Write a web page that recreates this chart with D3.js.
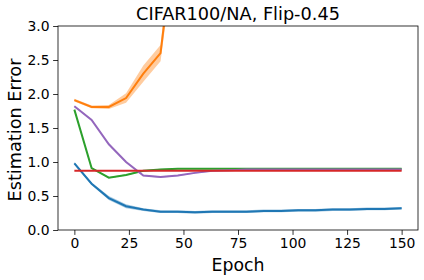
<!DOCTYPE html>
<html>
<head>
<meta charset="utf-8">
<script src="https://cdn.jsdelivr.net/npm/d3@7.9.0/dist/d3.min.js"></script>
<style>
  body { margin: 0; background: #fff; }
  svg text { font-family: "DejaVu Sans", sans-serif; fill: #000; }
</style>
</head>
<body>
<svg width="424" height="280"></svg>
<script>
const epochs = [0, 7.9, 15.8, 23.7, 31.6, 39.5, 47.4, 55.3, 63.2, 71.1, 78.9, 86.8, 94.7, 102.6, 110.5, 118.4, 126.3, 134.2, 142.1, 150];

// mean values per method
const blue   = [0.98, 0.68, 0.47, 0.35, 0.30, 0.27, 0.27, 0.26, 0.27, 0.27, 0.27, 0.28, 0.28, 0.29, 0.29, 0.30, 0.30, 0.31, 0.31, 0.32];
const orange = [1.91, 1.81, 1.81, 1.94, 2.30, 2.60, 4.7];
const green  = [1.77, 0.91, 0.77, 0.81, 0.87, 0.89, 0.90, 0.90, 0.90, 0.90, 0.90, 0.90, 0.90, 0.90, 0.90, 0.90, 0.90, 0.90, 0.90, 0.90];
const purple = [1.82, 1.62, 1.26, 1.00, 0.80, 0.78, 0.80, 0.84, 0.87, 0.88, 0.89, 0.89, 0.89, 0.89, 0.89, 0.89, 0.89, 0.89, 0.89, 0.89];
const red    = [0.87, 0.87, 0.87, 0.87, 0.87, 0.87, 0.87, 0.87, 0.87, 0.87, 0.87, 0.87, 0.87, 0.87, 0.87, 0.87, 0.87, 0.87, 0.87, 0.87];

// spread (half width of shaded band)
const blueSd   = [0.02, 0.02, 0.03, 0.03, 0.02, 0.02, 0.02, 0.02, 0.02, 0.02, 0.02, 0.02, 0.02, 0.02, 0.02, 0.02, 0.02, 0.02, 0.02, 0.02];
const orangeSd = [0.02, 0.02, 0.03, 0.07, 0.12, 0.12, 0.3];
const greenSd  = [0.01, 0.01, 0.01, 0.01, 0.01, 0.01, 0.01, 0.01, 0.01, 0.01, 0.01, 0.01, 0.01, 0.01, 0.01, 0.01, 0.01, 0.01, 0.01, 0.01];
const purpleSd = [0.01, 0.01, 0.01, 0.01, 0.01, 0.01, 0.01, 0.01, 0.01, 0.01, 0.01, 0.01, 0.01, 0.01, 0.01, 0.01, 0.01, 0.01, 0.01, 0.01];
const redSd    = [0, 0, 0, 0, 0, 0, 0, 0, 0, 0, 0, 0, 0, 0, 0, 0, 0, 0, 0, 0];

const xTicks = [0, 25, 50, 75, 100, 125, 150];
const yTicks = [0.0, 0.5, 1.0, 1.5, 2.0, 2.5, 3.0];

const series = [
  { v: blue, sd: blueSd, color: '#1f77b4' },
  { v: orange, sd: orangeSd, color: '#ff7f0e' },
  { v: green, sd: greenSd, color: '#2ca02c' },
  { v: purple, sd: purpleSd, color: '#9467bd' },
  { v: red, sd: redSd, color: '#d62728' },
];

const margin = { left: 58, right: 6, top: 26, bottom: 50 };
const W = 424, H = 280;
const svg = d3.select('svg');

const x = d3.scaleLinear().domain([-7.5, 157.5]).range([margin.left, W - margin.right]);
const y = d3.scaleLinear().domain([0, 3]).range([H - margin.bottom, margin.top]);

svg.append('clipPath').attr('id', 'clip')
  .append('rect')
  .attr('x', margin.left).attr('y', margin.top)
  .attr('width', W - margin.left - margin.right)
  .attr('height', H - margin.top - margin.bottom);

const plot = svg.append('g').attr('clip-path', 'url(#clip)');

series.forEach((s) => {
  let pts = s.v.map((d, i) => ({ x: epochs[i], y: d, sd: s.sd[i] }));
  let area = d3.area().x((d) => x(d.x)).y0((d) => y(d.y - d.sd)).y1((d) => y(d.y + d.sd));
  plot.append('path').attr('d', area(pts))
    .attr('fill', s.color).attr('opacity', 0.4);
  let line = d3.line().x((d) => x(d.x)).y((d) => y(d.y));
  plot.append('path').attr('d', line(pts))
    .attr('fill', 'none').attr('stroke', s.color).attr('stroke-width', 2);
});

// axes
svg.append('g')
  .attr('transform', `translate(0,${H - margin.bottom})`)
  .call(d3.axisBottom(x).tickValues(xTicks).tickSize(4.9).tickPadding(3.5))
  .call((g) => g.selectAll('text').style('font-size', '13.9px'));
svg.append('g')
  .attr('transform', `translate(${margin.left},0)`)
  .call(d3.axisLeft(y).tickValues(yTicks).tickFormat(d3.format('.1f')).tickSize(4.9).tickPadding(3.5))
  .call((g) => g.selectAll('text').style('font-size', '13.9px'));

svg.selectAll('.domain').remove();
svg.selectAll('.tick line').attr('stroke', '#000').attr('stroke-width', 0.8);

svg.append('rect')
  .attr('x', margin.left).attr('y', margin.top)
  .attr('width', W - margin.left - margin.right)
  .attr('height', H - margin.top - margin.bottom)
  .attr('fill', 'none').attr('stroke', '#000').attr('stroke-width', 0.8);

// labels
svg.append('text')
  .attr('x', (margin.left + W - margin.right) / 2).attr('y', 20)
  .attr('text-anchor', 'middle').style('font-size', '17.7px')
  .text('CIFAR100/NA, Flip-0.45');
svg.append('text')
  .attr('x', (margin.left + W - margin.right) / 2).attr('y', 271)
  .attr('text-anchor', 'middle').style('font-size', '17.3px')
  .text('Epoch');
svg.append('text')
  .attr('transform', `translate(21,${(margin.top + H - margin.bottom) / 2 + 2}) rotate(-90)`)
  .attr('text-anchor', 'middle').style('font-size', '17.7px')
  .text('Estimation Error');
</script>
</body>
</html>
